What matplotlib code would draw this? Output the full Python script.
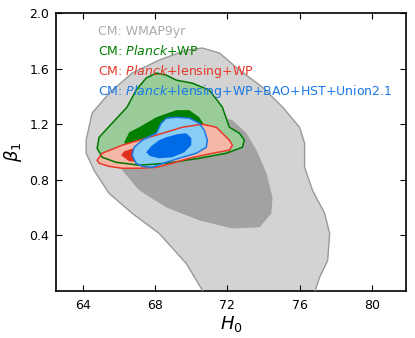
import matplotlib
matplotlib.use("Agg")
import matplotlib.pyplot as plt

plt.rcParams['font.family'] = ['DejaVu Sans']
plt.rcParams['mathtext.fontset'] = 'dejavusans'

# ---- contour outlines (H0, beta1) ----
wmap95_h0 = [64.17, 64.5, 65.44, 66.72, 68.22, 69.72, 70.61, 71.56, 72.67, 73.94, 75.06, 76.0,
             76.28, 76.28, 76.72, 77.39, 77.67, 77.56, 77.11, 76.6, 71.1, 69.72, 68.22, 66.72,
             65.44, 64.61, 64.17]
wmap95_b1 = [1.085, 1.279, 1.423, 1.568, 1.661, 1.733, 1.748, 1.712, 1.589, 1.467, 1.323, 1.178,
             1.063, 0.890, 0.724, 0.559, 0.414, 0.220, 0.097, -0.1, -0.1, 0.198, 0.414, 0.559,
             0.703, 0.868, 0.991]

wmap68_h0 = [66.17, 67.11, 68.61, 70.44, 72.28, 73.78, 74.44, 74.5, 74.17, 73.61, 73.06, 72.28,
             71.0, 69.33, 67.67, 66.28]
wmap68_b1 = [0.868, 0.724, 0.602, 0.508, 0.450, 0.458, 0.559, 0.674, 0.847, 1.013, 1.135, 1.229,
             1.265, 1.243, 1.171, 1.013]

pwp95_h0 = [64.78, 64.89, 65.61, 66.44, 66.94, 67.5, 68.06, 68.61, 69.17, 70.06, 71.0, 71.72,
            72.11, 72.67, 72.94, 72.83, 71.94, 70.44, 68.61, 67.11, 65.83, 65.06]
pwp95_b1 = [1.027, 1.106, 1.207, 1.323, 1.445, 1.532, 1.568, 1.553, 1.517, 1.495, 1.445, 1.323,
            1.178, 1.135, 1.085, 1.034, 0.991, 0.955, 0.919, 0.905, 0.926, 0.962]

pwp68_h0 = [66.28, 66.56, 67.11, 68.06, 69.17, 69.89, 70.44, 70.72, 70.44, 69.33, 67.67, 66.56]
pwp68_b1 = [1.070, 1.142, 1.178, 1.250, 1.301, 1.301, 1.250, 1.193, 1.085, 1.013, 0.998, 1.013]

plw95_h0 = [64.78, 65.06, 66.17, 68.06, 69.5, 70.61, 71.39, 71.72, 72.11, 72.28, 72.11, 71.17,
            69.89, 68.94, 68.06, 67.11, 66.17, 65.44, 64.89]
plw95_b1 = [0.941, 0.991, 1.049, 1.121, 1.178, 1.200, 1.178, 1.135, 1.085, 1.049, 1.013, 0.991,
            0.955, 0.919, 0.890, 0.883, 0.883, 0.897, 0.919]

plw68_h0 = [66.11, 66.28, 66.83, 68.22, 69.61, 70.44, 70.17, 68.78, 67.39, 66.56]
plw68_b1 = [0.977, 1.006, 1.027, 1.070, 1.106, 1.085, 0.998, 0.941, 0.926, 0.933]

pall95_h0 = [66.72, 66.83, 67.28, 68.06, 68.33, 68.61, 69.17, 69.89, 70.44, 70.72, 70.89, 70.83,
             70.28, 69.5, 68.61, 67.83, 67.28, 66.94]
pall95_b1 = [0.977, 1.034, 1.085, 1.135, 1.207, 1.243, 1.250, 1.243, 1.207, 1.157, 1.085, 1.034,
             0.991, 0.962, 0.926, 0.890, 0.897, 0.919]

pall68_h0 = [67.5, 67.78, 68.22, 68.61, 69.22, 69.72, 70.0, 70.0, 69.61, 68.94, 68.22, 67.72]
pall68_b1 = [0.998, 1.042, 1.085, 1.106, 1.128, 1.135, 1.099, 1.049, 0.998, 0.962, 0.955, 0.970]

legend_labels = ["CM: WMAP9yr",
                 r"CM: $\mathit{Planck}$+WP",
                 r"CM: $\mathit{Planck}$+lensing+WP",
                 r"CM: $\mathit{Planck}$+lensing+WP+BAO+HST+Union2.1"]
x_ticks = [64, 68, 72, 76, 80]
y_ticks = [0.4, 0.8, 1.2, 1.6, 2.0]

fig = plt.figure(figsize=(4.15, 3.38), dpi=100)
ax = fig.add_axes([56/415, 47/338, 350/415, 278/338])

# fills
ax.fill(wmap95_h0, wmap95_b1, facecolor='#d3d3d3', edgecolor='none', zorder=1)
ax.fill(wmap68_h0, wmap68_b1, facecolor='#a2a2a2', edgecolor='none', zorder=2)
ax.fill(pwp95_h0, pwp95_b1, facecolor='#99cc99', edgecolor='none', zorder=3)
ax.fill(pwp68_h0, pwp68_b1, facecolor='#007f00', edgecolor='none', zorder=4)
ax.fill(plw95_h0, plw95_b1, facecolor='#f6b8a6', edgecolor='none', zorder=5)
ax.fill(plw68_h0, plw68_b1, facecolor='#e0301e', edgecolor='none', zorder=6)
ax.fill(pall95_h0, pall95_b1, facecolor='#88cdf6', edgecolor='none', zorder=7)
ax.fill(pall68_h0, pall68_b1, facecolor='#006be6', edgecolor='none', zorder=8)

# edges
ax.fill(wmap95_h0, wmap95_b1, facecolor='none', edgecolor='#999999', lw=1.0, zorder=9)
ax.fill(pwp95_h0, pwp95_b1, facecolor='none', edgecolor='#007700', lw=1.1, zorder=10)
ax.fill(plw95_h0, plw95_b1, facecolor='none', edgecolor='#e8382a', lw=1.1, zorder=11)
ax.fill(pall95_h0, pall95_b1, facecolor='none', edgecolor='#1a78e6', lw=1.1, zorder=12)

ax.set_xlim(62.5, 81.9)
ax.set_ylim(0, 2.0)
ax.set_xticks(x_ticks)
ax.set_yticks(y_ticks)
ax.set_xticklabels([str(v) for v in x_ticks])
ax.set_yticklabels(["%.1f" % v for v in y_ticks])
ax.tick_params(direction='in', top=True, right=True, length=4, width=0.8,
               labelsize=9, colors='black')
ax.tick_params(axis='x', pad=6)
ax.tick_params(axis='y', pad=5)
for s in ax.spines.values():
    s.set_linewidth(1.2)

ax.set_xlabel(r"$H_0$", fontsize=13, labelpad=1)
ax.set_ylabel(r"$\beta_1$", fontsize=13, labelpad=4)

colors = ['#aaaaaa', '#008000', '#e8382a', '#1a78e6']
for i, (lab, c) in enumerate(zip(legend_labels, colors)):
    ax.text((98 - 56) / 350, 1 - (31 + 20 * i - 13) / 278, lab, color=c, fontsize=9,
            transform=ax.transAxes, va='center', ha='left', zorder=20)

fig.savefig("out.png", dpi=100)
